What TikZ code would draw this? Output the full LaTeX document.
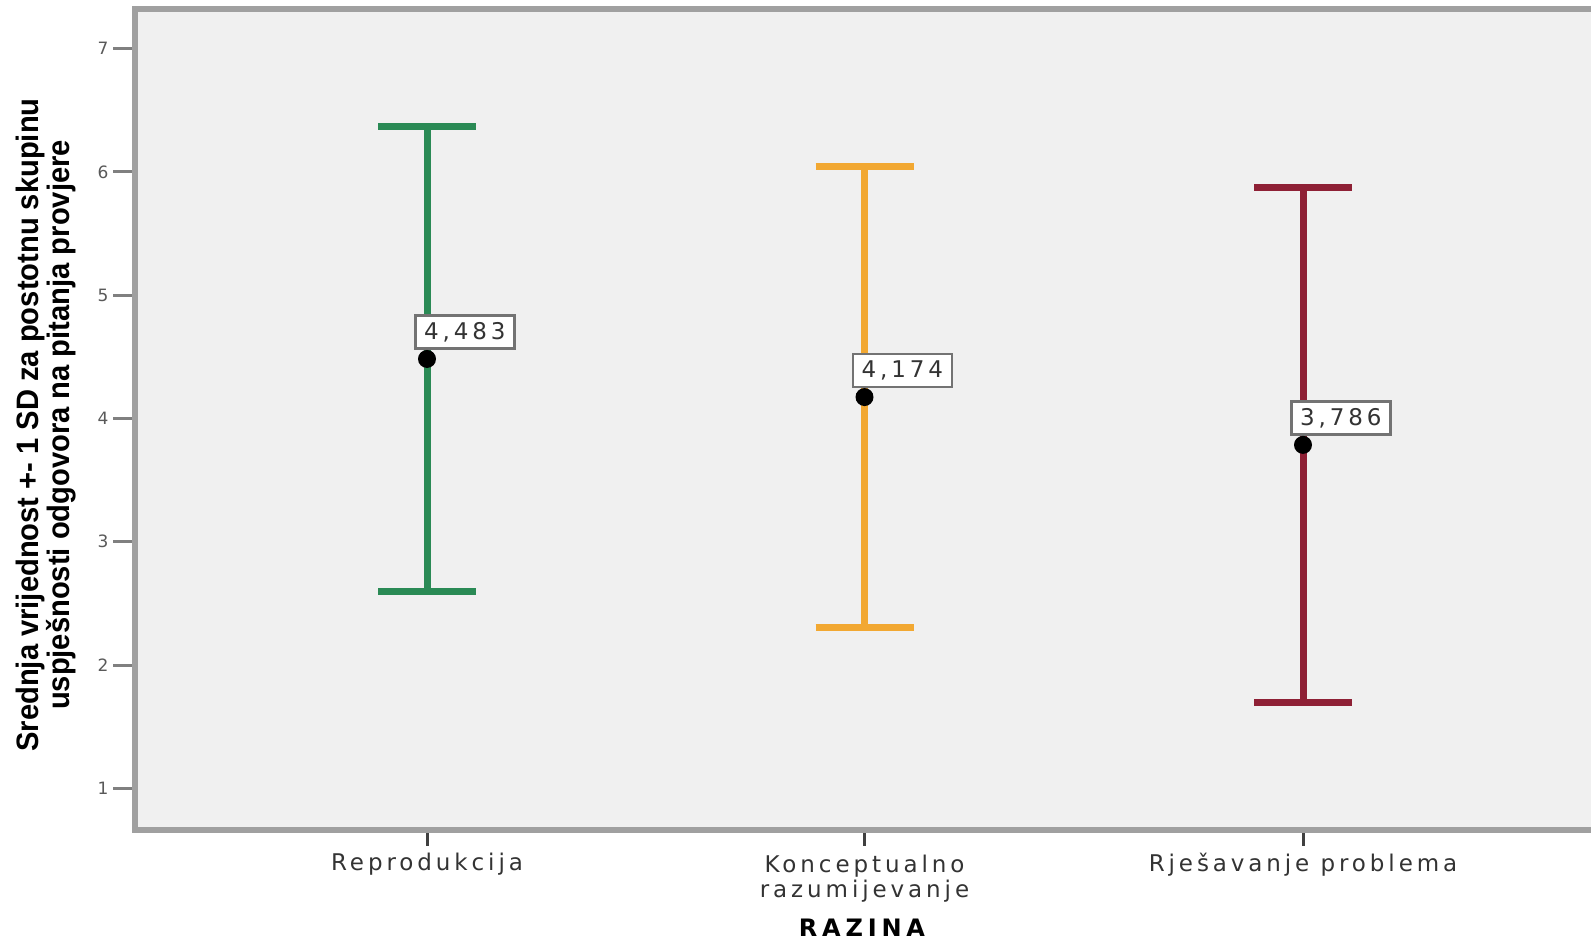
\documentclass[tikz,border=0pt]{standalone}
\usepackage{fontspec}
\newfontfamily\lblfont[LetterSpace=17]{DejaVu Sans}
\newfontfamily\razfont[LetterSpace=20]{DejaVu Sans}
\newfontfamily\ttlfont[FakeStretch=0.94]{Liberation Sans}
\newfontfamily\tickfont{DejaVu Sans}
\definecolor{plotbg}{HTML}{F0F0F0}
\definecolor{framegray}{HTML}{A0A0A0}
\definecolor{cgreen}{HTML}{2A8A55}
\definecolor{corange}{HTML}{F2A832}
\definecolor{cred}{HTML}{8E2035}
\definecolor{txtgray}{HTML}{333333}
\tikzset{
  frameline/.style={draw=framegray, line width=6pt},
  ytick/.style={draw=gray, line width=3pt},
  xtick/.style={draw=black!75, line width=3pt},
  errbar/.style={line width=7pt, line cap=butt},
  valbox/.style={draw=black!55, line width=2.5pt, fill=white, minimum width=99pt, minimum height=33pt, inner sep=0pt, font=\lblfont\fontsize{23}{26}\selectfont, text=txtgray},
  xlabel/.style={font=\lblfont\fontsize{23}{25}\selectfont, text=txtgray, align=center},
  ylabel/.style={font=\tickfont\fontsize{17}{18}\selectfont, text=black!65},
  meandot/.style={fill=black},
  declare function={yv(\v)=788.4-(\v-1)*123.3;}
}
\begin{document}
\begin{tikzpicture}[x=1pt,y=-1pt]
\useasboundingbox (0,0) rectangle (1591,943);
\clip (0,0) rectangle (1591,943);
% plot area
\fill[plotbg] (135,8.5) rectangle (1600,830);
\draw[frameline] (1600,8.5) -- (135,8.5) -- (135,830) -- (1600,830);
% y ticks and labels
\foreach \k in {1,...,7}{
  \coordinate (yt\k a) at (113,{yv(\k)});
  \coordinate (yt\k b) at (132,{yv(\k)});
  \draw[ytick] (yt\k a) -- (yt\k b);
  \node[ylabel] (yl\k) at (103,{yv(\k)}) {\k};
}
% x ticks
\foreach \n/\xx in {a/427,b/864.5,c/1303}{
  \coordinate (xt\n a) at (\xx,833);
  \coordinate (xt\n b) at (\xx,846);
  \draw[xtick] (xt\n a) -- (xt\n b);
}
% error bars
\coordinate (gtop) at (427,{yv(6.366)});
\coordinate (gbot) at (427,{yv(2.600)});
\coordinate (otop) at (864.5,{yv(6.044)});
\coordinate (obot) at (864.5,{yv(2.304)});
\coordinate (rtop) at (1303,{yv(5.872)});
\coordinate (rbot) at (1303,{yv(1.700)});
\draw[errbar, cgreen] (gtop) -- (gbot);
\draw[errbar, cgreen] (gtop) ++(-49,0) -- ++(98,0);
\draw[errbar, cgreen] (gbot) ++(-49,0) -- ++(98,0);
\draw[errbar, corange] (otop) -- (obot);
\draw[errbar, corange] (otop) ++(-49,0) -- ++(98,0);
\draw[errbar, corange] (obot) ++(-49,0) -- ++(98,0);
\draw[errbar, cred] (rtop) -- (rbot);
\draw[errbar, cred] (rtop) ++(-49,0) -- ++(98,0);
\draw[errbar, cred] (rbot) ++(-49,0) -- ++(98,0);
% mean labels and dots
\node[valbox, anchor=south west] (m1) at (414,{yv(4.483)-9}) {4,483};
\node[valbox, anchor=south west] (m2) at (851.5,{yv(4.174)-9}) {4,174};
\node[valbox, anchor=south west] (m3) at (1290,{yv(3.786)-9}) {3,786};
\fill[meandot] (427,{yv(4.483)}) circle[radius=9pt];
\fill[meandot] (864.5,{yv(4.174)}) circle[radius=9pt];
\fill[meandot] (1303,{yv(3.786)}) circle[radius=9pt];
% category labels
\node[xlabel] (c1) at (427,864.5) {Reprodukcija};
\node[xlabel, anchor=north] (c2) at (864.5,851) {Konceptualno\\razumijevanje};
\node[xlabel] (c3) at (1303,864.5) {Rješavanje problema};
\node[font=\razfont\bfseries\fontsize{24}{28}\selectfont] (xt) at (862,928) {RAZINA};
% y title
\node[font=\ttlfont\bfseries\fontsize{31}{31}\selectfont, rotate=90, align=center] (yt) at (46,425)
  {Srednja vrijednost +- 1 SD za postotnu skupinu\\uspješnosti odgovora na pitanja provjere};
\end{tikzpicture}
\end{document}
